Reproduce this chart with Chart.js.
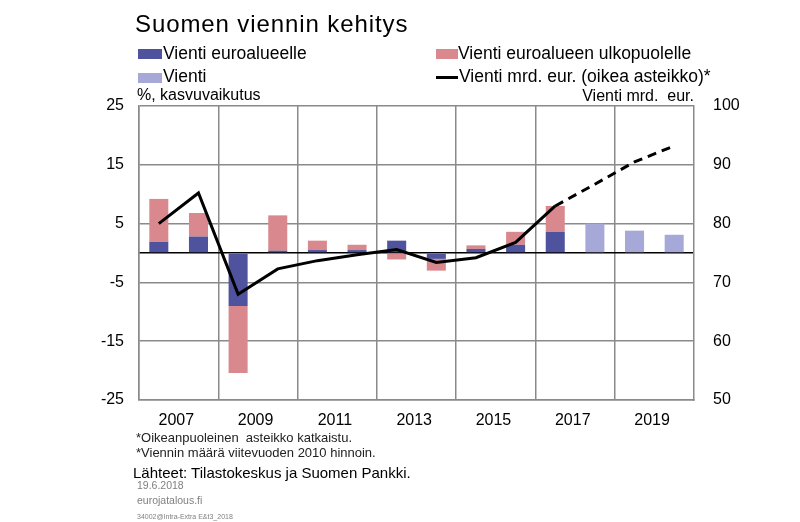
<!DOCTYPE html>
<html>
<head>
<meta charset="utf-8">
<script src="https://cdn.jsdelivr.net/npm/chart.js@4/dist/chart.umd.min.js"></script>
<style>
  html, body { margin: 0; padding: 0; background: #fff; }
  body { width: 800px; height: 522px; position: relative; overflow: hidden;
         font-family: "Liberation Sans", Arial, sans-serif; color: #000; }
  #chart { position: absolute; left: 0; top: 0; }
  .txt { position: absolute; white-space: pre; line-height: 1; }
  .box { position: absolute; }
</style>
</head>
<body>
<canvas id="chart" width="800" height="522"></canvas>
<div id="overlay"></div>

<script>
const years = ['2007', '2008', '2009', '2010', '2011', '2012', '2013',
               '2014', '2015', '2016', '2017', '2018', '2019', '2020'];
// % kasvuvaikutus
const euroalue   = [1.9, 2.8, -9.0, 0.4, 0.5, 0.5, 2.1, -1.0, 0.7, 1.4, 3.6, null, null, null];
const ulkopuoli  = [7.3, 4.0, -11.4, 6.0, 1.6, 0.9, -1.1, -2.0, 0.6, 2.2, 4.4, null, null, null];
const vienti     = [null, null, null, null, null, null, null, null, null, null, null, 5.0, 3.8, 3.1];
// mrd. eur. (oikea asteikko)
const vientiMrd  = [80.0, 85.2, 68.0, 72.3, 73.7, 74.7, 75.6, 73.4, 74.2, 76.8, 83.0, 86.7, 90.5, 93.2];
const lastActual = 10; // 2017, ennuste sen jälkeen katkoviivalla

const leftTicks  = [-25, -15, -5, 5, 15, 25];
const rightTicks = [50, 60, 70, 80, 90, 100];

const labels = {
    euro: 'Vienti euroalueelle',
    ulko: 'Vienti euroalueen ulkopuolelle',
    vienti: 'Vienti',
    mrd: 'Vienti mrd. eur. (oikea asteikko)*'
};

const colors = {
    euro: '#4f529d',
    ulko: '#d9898e',
    vienti: '#a6a9d7',
    line: '#000000',
    grid: '#8a8a8a'
};

Chart.defaults.font.family = '"Liberation Sans", Arial, sans-serif';
Chart.defaults.color = '#000';

//texts around the plot
function addText(text, x, baseline, size, opts) {
    opts = opts || {};
    const el = document.createElement('div');
    el.className = 'txt';
    el.textContent = text;
    el.style.fontSize = size + 'px';
    el.style.top = (baseline - 0.847 * size) + 'px';
    if (opts.right) {
        el.style.right = (800 - x) + 'px';
    } else {
        el.style.left = x + 'px';
    }
    if (opts.color) el.style.color = opts.color;
    if (opts.spacing) el.style.letterSpacing = opts.spacing + 'px';
    document.getElementById('overlay').appendChild(el);
}

function addBox(x, y, w, h, color) {
    const el = document.createElement('div');
    el.className = 'box';
    el.style.left = x + 'px';
    el.style.top = y + 'px';
    el.style.width = w + 'px';
    el.style.height = h + 'px';
    el.style.background = color;
    document.getElementById('overlay').appendChild(el);
}

addText('Suomen viennin kehitys', 135, 32, 24, { spacing: 0.9 });

//legend, two columns like the original
addBox(138, 49, 24, 10, colors.euro);
addText(labels.euro, 163, 59.5, 17.5);
addBox(436, 49, 22, 10, colors.ulko);
addText(labels.ulko, 458, 59.5, 17.5);
addBox(138, 73, 24, 10, colors.vienti);
addText(labels.vienti, 163, 83, 17.5);
addBox(436, 75.5, 22, 3, colors.line);
addText(labels.mrd, 459, 83, 17.5);

addText('%, kasvuvaikutus', 137, 100.5, 16);
addText('Vienti mrd.  eur.', 694, 101.5, 16, { right: true });

addText('*Oikeanpuoleinen  asteikko katkaistu.', 136, 441.7, 13, { color: '#222' });
addText('*Viennin määrä viitevuoden 2010 hinnoin.', 136, 457.3, 13, { color: '#222' });
addText('Lähteet: Tilastokeskus ja Suomen Pankki.', 133, 478, 15);
addText('19.6.2018', 137, 488.8, 10.5, { color: '#808080' });
addText('eurojatalous.fi', 137, 503.5, 10.5, { color: '#808080' });
addText('34002@Intra-Extra E&t3_2018', 137, 519, 7, { color: '#808080' });

const ctx = document.getElementById('chart').getContext('2d');
const chart = new Chart(ctx, {
    data: {
        labels: years,
        datasets: [
            {
                type: 'line',
                label: labels.mrd,
                data: vientiMrd,
                yAxisID: 'y2',
                borderColor: colors.line,
                borderWidth: 3,
                pointRadius: 0,
                tension: 0,
                order: 0,
                segment: {
                    borderDash: c => c.p0DataIndex >= lastActual ? [9, 6] : undefined
                }
            },
            {
                type: 'bar',
                label: labels.euro,
                data: euroalue,
                backgroundColor: colors.euro,
                yAxisID: 'y',
                order: 1
            },
            {
                type: 'bar',
                label: labels.ulko,
                data: ulkopuoli,
                backgroundColor: colors.ulko,
                yAxisID: 'y',
                order: 1
            },
            {
                type: 'bar',
                label: labels.vienti,
                data: vienti,
                backgroundColor: colors.vienti,
                yAxisID: 'y',
                order: 1
            }
        ]
    },
    options: {
        responsive: false,
        animation: false,
        devicePixelRatio: 1,
        layout: { padding: { top: 106, left: 0, right: 0, bottom: 0 } },
        datasets: {
            bar: { categoryPercentage: 1, barPercentage: 0.48 }
        },
        plugins: {
            legend: { display: false },
            tooltip: { enabled: false }
        },
        scales: {
            x: {
                stacked: true,
                afterFit: s => { s.height = 122; },
                border: { display: true, color: colors.grid, width: 1.5 },
                grid: {
                    offset: true,
                    drawTicks: false,
                    lineWidth: 1.5,
                    color: c => c.index % 2 === 0 ? colors.grid : 'rgba(0,0,0,0)'
                },
                ticks: {
                    autoSkip: false,
                    maxRotation: 0,
                    padding: 11,
                    labelOffset: 17.5,
                    font: { size: 16 },
                    callback: (v, i) => i % 2 === 0 ? years[i] : ''
                }
            },
            y: {
                position: 'left',
                stacked: true,
                min: leftTicks[0],
                max: leftTicks[leftTicks.length - 1],
                afterFit: s => { s.width = 139; },
                //zero line as an extra tick
                afterBuildTicks: s => {
                    s.ticks = leftTicks.map(v => ({ value: v })).concat([{ value: 0 }]);
                },
                border: { display: true, color: colors.grid, width: 1.5 },
                grid: {
                    drawTicks: false,
                    lineWidth: 1.5,
                    color: c => c.tick && c.tick.value === 0 ? '#000' : colors.grid
                },
                ticks: {
                    padding: 15,
                    font: { size: 16 },
                    callback: v => v === 0 ? '' : v
                }
            },
            y2: {
                position: 'right',
                min: rightTicks[0],
                max: rightTicks[rightTicks.length - 1],
                afterFit: s => { s.width = 106; },
                afterBuildTicks: s => {
                    s.ticks = rightTicks.map(v => ({ value: v }));
                },
                border: { display: true, color: colors.grid, width: 1.5 },
                grid: { display: false, drawTicks: false },
                ticks: {
                    padding: 19,
                    font: { size: 16 }
                }
            }
        }
    }
});
</script>
</body>
</html>
